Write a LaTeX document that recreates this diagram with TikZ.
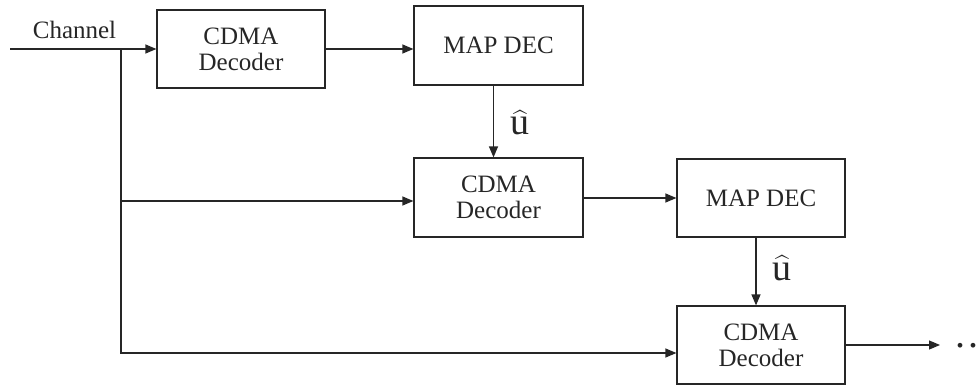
\documentclass[tikz,border=0pt]{standalone}
\usepackage{amsmath}
\usepackage{fontspec}
\setmainfont{Liberation Serif}
\usetikzlibrary{arrows.meta,calc}
\begin{document}
\begin{tikzpicture}[x=1pt,y=-1pt, line width=1.2pt, color=black!85,
  box/.style={draw, rectangle, minimum width=168pt, minimum height=78pt, inner sep=0pt, align=center, font=\fontsize{25}{26}\selectfont},
  arr/.style={-{Triangle[length=11pt,width=9pt]}},
  lbl/.style={font=\fontsize{25}{26}\selectfont},
  hatlbl/.style={font=\fontsize{38}{40}\selectfont}]
\useasboundingbox (0,0) rectangle (979,385);
\node[box] (b1) at (241,49) {CDMA\\Decoder};
\node[box, minimum width=169pt, minimum height=79pt] (b2) at (498.5,45.5) {MAP DEC};
\node[box, minimum width=169pt, minimum height=79pt] (b3) at (498.5,197.5) {CDMA\\Decoder};
\node[box] (b4) at (761,198) {MAP DEC};
\node[box] (b5) at (761,345) {CDMA\\Decoder};
\coordinate (in) at (10,49);
\coordinate (br) at (121,49);
\coordinate (y2) at (0,201);
\coordinate (y3) at (0,353);
\coordinate (out) at (940,345);
\node[lbl, anchor=base] (ch) at (74.5,39) {Channel};
\draw[arr] (in) -- (b1.west |- in);
\draw (br) -- (br |- y2);
\draw[arr] (br |- y2) -- (b3.west |- y2);
\draw[arr] (br |- y2) |- (b5.west |- y3);
\draw[arr] (b1.east) -- (b1.east -| b2.west);
\draw[arr] ($(b2.south)+(-5,0)$) -- ($(b3.north)+(-5,0)$);
\draw[arr] (b3.east |- b4.west) -- (b4.west);
\draw[arr] ($(b4.south)+(-5,0)$) -- ($(b5.north)+(-5,0)$);
\draw[arr] (b5.east) -- (out);
\node[hatlbl, anchor=base] (u1) at (520,135) {$\widehat{\text{u}}$};
\node[hatlbl, anchor=base] (u2) at (782,280) {$\widehat{\text{u}}$};
\node[anchor=base, inner sep=0pt, font=\fontsize{40}{40}\selectfont] (dots) at (966.5,347) {.\hspace{3pt}.};
\end{tikzpicture}
\end{document}
